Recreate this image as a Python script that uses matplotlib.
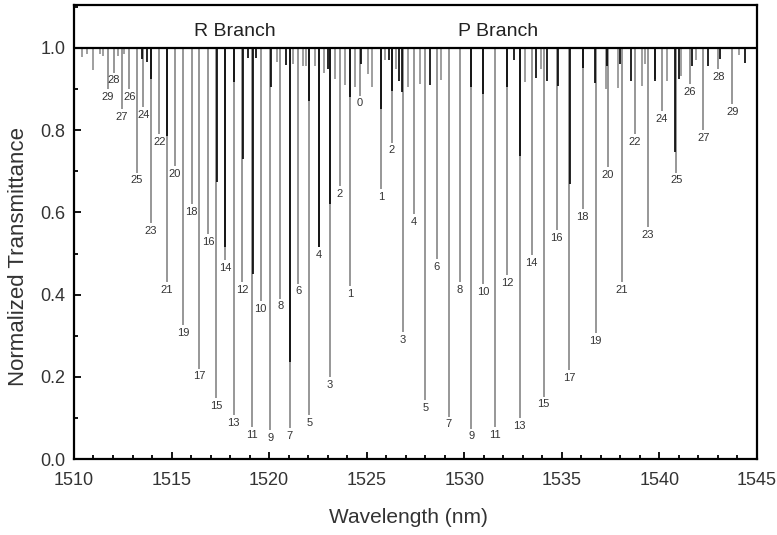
import matplotlib
matplotlib.use("Agg")
import matplotlib.pyplot as plt
from matplotlib.ticker import MultipleLocator

plt.rcParams['font.family'] = ['Liberation Sans', 'DejaVu Sans']

# main band lines: R branch (J, wavelength nm, minimum transmittance)
r_j = [29, 28, 27, 26, 25, 24, 23, 22, 21, 20, 19, 18, 17, 16, 15,
       14, 13, 12, 11, 10, 9, 8, 7, 6, 5, 4, 3, 2, 1, 0]
r_wl = [1511.73, 1512.05, 1512.44, 1512.83, 1513.21, 1513.55, 1513.94, 1514.37,
        1514.75, 1515.17, 1515.60, 1516.03, 1516.42, 1516.88, 1517.27, 1517.73,
        1518.19, 1518.62, 1519.14, 1519.57, 1520.06, 1520.57, 1521.06, 1521.50,
        1522.06, 1522.57, 1523.13, 1523.62, 1524.15, 1524.66]
r_t = [0.900, 0.940, 0.852, 0.900, 0.697, 0.857, 0.573, 0.790, 0.430, 0.713,
       0.325, 0.620, 0.220, 0.548, 0.148, 0.483, 0.107, 0.430, 0.078, 0.385,
       0.070, 0.390, 0.075, 0.427, 0.107, 0.515, 0.200, 0.664, 0.420, 0.884]

# P branch
p_j = list(range(1, 30))
p_wl = [1525.72, 1526.28, 1526.86, 1527.43, 1528.01, 1528.59, 1529.20, 1529.78,
        1530.36, 1530.98, 1531.58, 1532.20, 1532.84, 1533.45, 1534.07, 1534.74,
        1535.36, 1536.06, 1536.73, 1537.37, 1538.07, 1538.76, 1539.42, 1540.14,
        1540.86, 1541.56, 1542.26, 1543.02, 1543.73]
p_t = [0.656, 0.770, 0.309, 0.595, 0.143, 0.487, 0.103, 0.430, 0.074, 0.426,
       0.078, 0.447, 0.099, 0.497, 0.152, 0.557, 0.216, 0.608, 0.307, 0.710,
       0.430, 0.790, 0.564, 0.847, 0.697, 0.912, 0.800, 0.948, 0.863]

# hot band / isotopic lines
hot_wl = [1513.47, 1513.72, 1513.97, 1514.75, 1517.31, 1517.73, 1518.22, 1518.64,
          1518.92, 1519.15, 1519.35, 1520.09, 1520.89, 1521.08, 1522.05, 1522.57,
          1523.02, 1523.13, 1524.15, 1524.73, 1525.72, 1526.13, 1526.30, 1526.64,
          1526.83, 1528.26, 1530.36, 1530.96, 1532.19, 1532.53, 1532.87, 1533.68,
          1534.25, 1534.83, 1535.43, 1536.08, 1536.70, 1537.33, 1537.96, 1538.54,
          1539.76, 1540.82, 1541.03, 1541.69, 1542.48, 1543.10, 1544.38]
hot_t = [0.974, 0.966, 0.925, 0.785, 0.673, 0.517, 0.918, 0.730,
         0.975, 0.449, 0.975, 0.905, 0.959, 0.235, 0.872, 0.515,
         0.950, 0.620, 0.880, 0.960, 0.851, 0.970, 0.896, 0.920,
         0.892, 0.910, 0.904, 0.888, 0.905, 0.970, 0.738, 0.928,
         0.920, 0.908, 0.669, 0.952, 0.915, 0.957, 0.960, 0.920,
         0.920, 0.746, 0.924, 0.956, 0.955, 0.972, 0.963]

# weak lines of the main band
weak_wl = [1510.39, 1510.65, 1510.99, 1511.33, 1511.47, 1512.27, 1512.58, 1520.43,
           1521.23, 1521.74, 1521.91, 1522.34, 1522.83, 1523.39, 1523.88, 1524.39,
           1525.07, 1525.29, 1525.92, 1526.52, 1527.10, 1527.72, 1528.79, 1533.12,
           1533.95, 1537.24, 1537.87, 1539.11, 1539.26, 1539.78, 1540.39, 1541.13,
           1541.88, 1544.06]
weak_t = [0.978, 0.986, 0.946, 0.985, 0.980, 0.980, 0.985, 0.966,
          0.960, 0.957, 0.957, 0.955, 0.940, 0.925, 0.910, 0.905,
          0.937, 0.905, 0.970, 0.950, 0.905, 0.913, 0.921, 0.918,
          0.950, 0.900, 0.902, 0.907, 0.960, 0.925, 0.920, 0.932,
          0.971, 0.983]

fig = plt.figure(figsize=(7.77, 5.35), dpi=100)
ax = fig.add_axes([0.0952, 0.142, 0.879, 0.849])

gray = '#858585'
ax.vlines(weak_wl, weak_t, 1.0, color=gray, lw=1.1)
ax.vlines(r_wl, r_t, 1.0, color=gray, lw=1.2)
ax.vlines(p_wl, p_t, 1.0, color=gray, lw=1.2)
ax.vlines(hot_wl, hot_t, 1.0, color='black', lw=1.2)
ax.axhline(1.0, color='black', lw=1.6)

for j, w, t in zip(r_j + p_j, r_wl + p_wl, r_t + p_t):
    ax.annotate(str(j), (w, t), xytext=(0, -2), textcoords='offset points',
                ha='center', va='top', fontsize=8, color='#333333')

ax.text(1518.24, 1.041, 'R Branch', ha='center', va='center', fontsize=14, color='#222222')
ax.text(1531.71, 1.041, 'P Branch', ha='center', va='center', fontsize=14, color='#222222')

ax.set_xlim(1510, 1545)
ax.set_ylim(0, 1.105)
ax.xaxis.set_major_locator(MultipleLocator(5))
ax.xaxis.set_minor_locator(MultipleLocator(1))
ax.set_yticks([0, 0.2, 0.4, 0.6, 0.8, 1.0])
ax.yaxis.set_minor_locator(MultipleLocator(0.1))
ax.tick_params(which='both', direction='in', top=False, right=False,
               width=1.3, colors='black', labelcolor='#333333')
ax.tick_params(which='major', length=5, labelsize=13)
ax.tick_params(axis='x', which='major', pad=9)
ax.tick_params(axis='y', which='major', pad=6)
ax.tick_params(which='minor', length=3)
for s in ax.spines.values():
    s.set_linewidth(1.6)

ax.set_xlabel('Wavelength (nm)', fontsize=15, color='#333333')
ax.set_ylabel('Normalized Transmittance', fontsize=16, color='#333333')
ax.xaxis.set_label_coords(0.49, -0.108)
ax.yaxis.set_label_coords(-0.066, 0.445)

fig.savefig('out.png', dpi=100)
